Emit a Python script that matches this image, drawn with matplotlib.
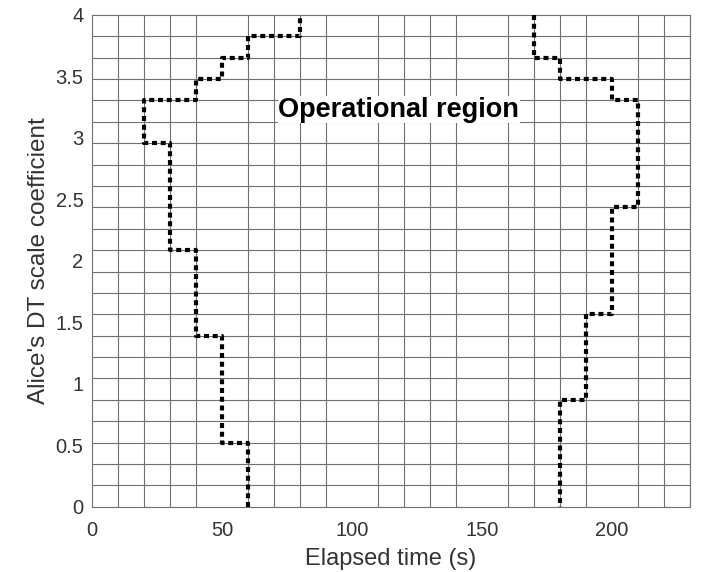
import numpy as np
import matplotlib.pyplot as plt

plt.rcParams['font.family'] = ['Liberation Sans', 'DejaVu Sans']

# grid of the original: 10 s columns, 23 rows over 0..4
gridStep = 4 / 23

# left boundary of the operational region (time, grid row)
leftT = [60, 60, 50, 50, 40, 40, 30, 30, 20, 20, 40, 40, 50, 50, 60, 60, 80, 80]
leftRow = [0, 3, 3, 8, 8, 12, 12, 17, 17, 19, 19, 20, 20, 21, 21, 22, 22, 23]

# right boundary
rightT = [170, 170, 180, 180, 200, 200, 210, 210, 200, 200, 190, 190, 180, 180]
rightRow = [23, 21, 21, 20, 20, 19, 19, 14, 14, 9, 9, 5, 5, 0]

xTicks = [0, 50, 100, 150, 200]
yTicks = [0, 0.5, 1, 1.5, 2, 2.5, 3, 3.5, 4]
yTickLabels = ['0', '0.5', '1', '1.5', '2', '2.5', '3', '3.5', '4']

fig = plt.figure(figsize=(7.07, 5.72), dpi=100)
ax = fig.add_axes([0.130, 0.114, 0.846, 0.860])

for t, r in [(leftT, leftRow), (rightT, rightRow)]:
    ax.plot(t, np.array(r) * gridStep, color='black', lw=3,
            dashes=(1.2, 0.9), dash_capstyle='butt', solid_joinstyle='miter', zorder=3)

ax.set_xlim(0, 230)
ax.set_ylim(0, 4)
ax.set_xticks(xTicks)
ax.set_yticks(yTicks)
ax.set_yticklabels(yTickLabels)
ax.set_xticks(np.arange(0, 231, 10), minor=True)
ax.set_yticks(np.arange(24) * gridStep, minor=True)
ax.grid(which='minor', color='#707070', lw=0.8)
ax.tick_params(which='both', length=0)
ax.tick_params(which='major', labelsize=14.5, labelcolor='#333333')
ax.tick_params(axis='x', pad=10)
ax.tick_params(axis='y', pad=6)
for s in ax.spines.values():
    s.set_color('#707070')
    s.set_linewidth(0.8)

ax.set_xlabel('Elapsed time (s)', fontsize=17, color='#333333', labelpad=6)
ax.set_ylabel("Alice's DT scale coefficient", fontsize=17.5, color='#333333', labelpad=4)

ax.text(118, 3.23, 'Operational region', fontsize=19.5, fontweight='bold',
        ha='center', va='center', zorder=4,
        bbox=dict(facecolor='white', edgecolor='none', pad=0.5))

fig.savefig('out.png', dpi=100)
